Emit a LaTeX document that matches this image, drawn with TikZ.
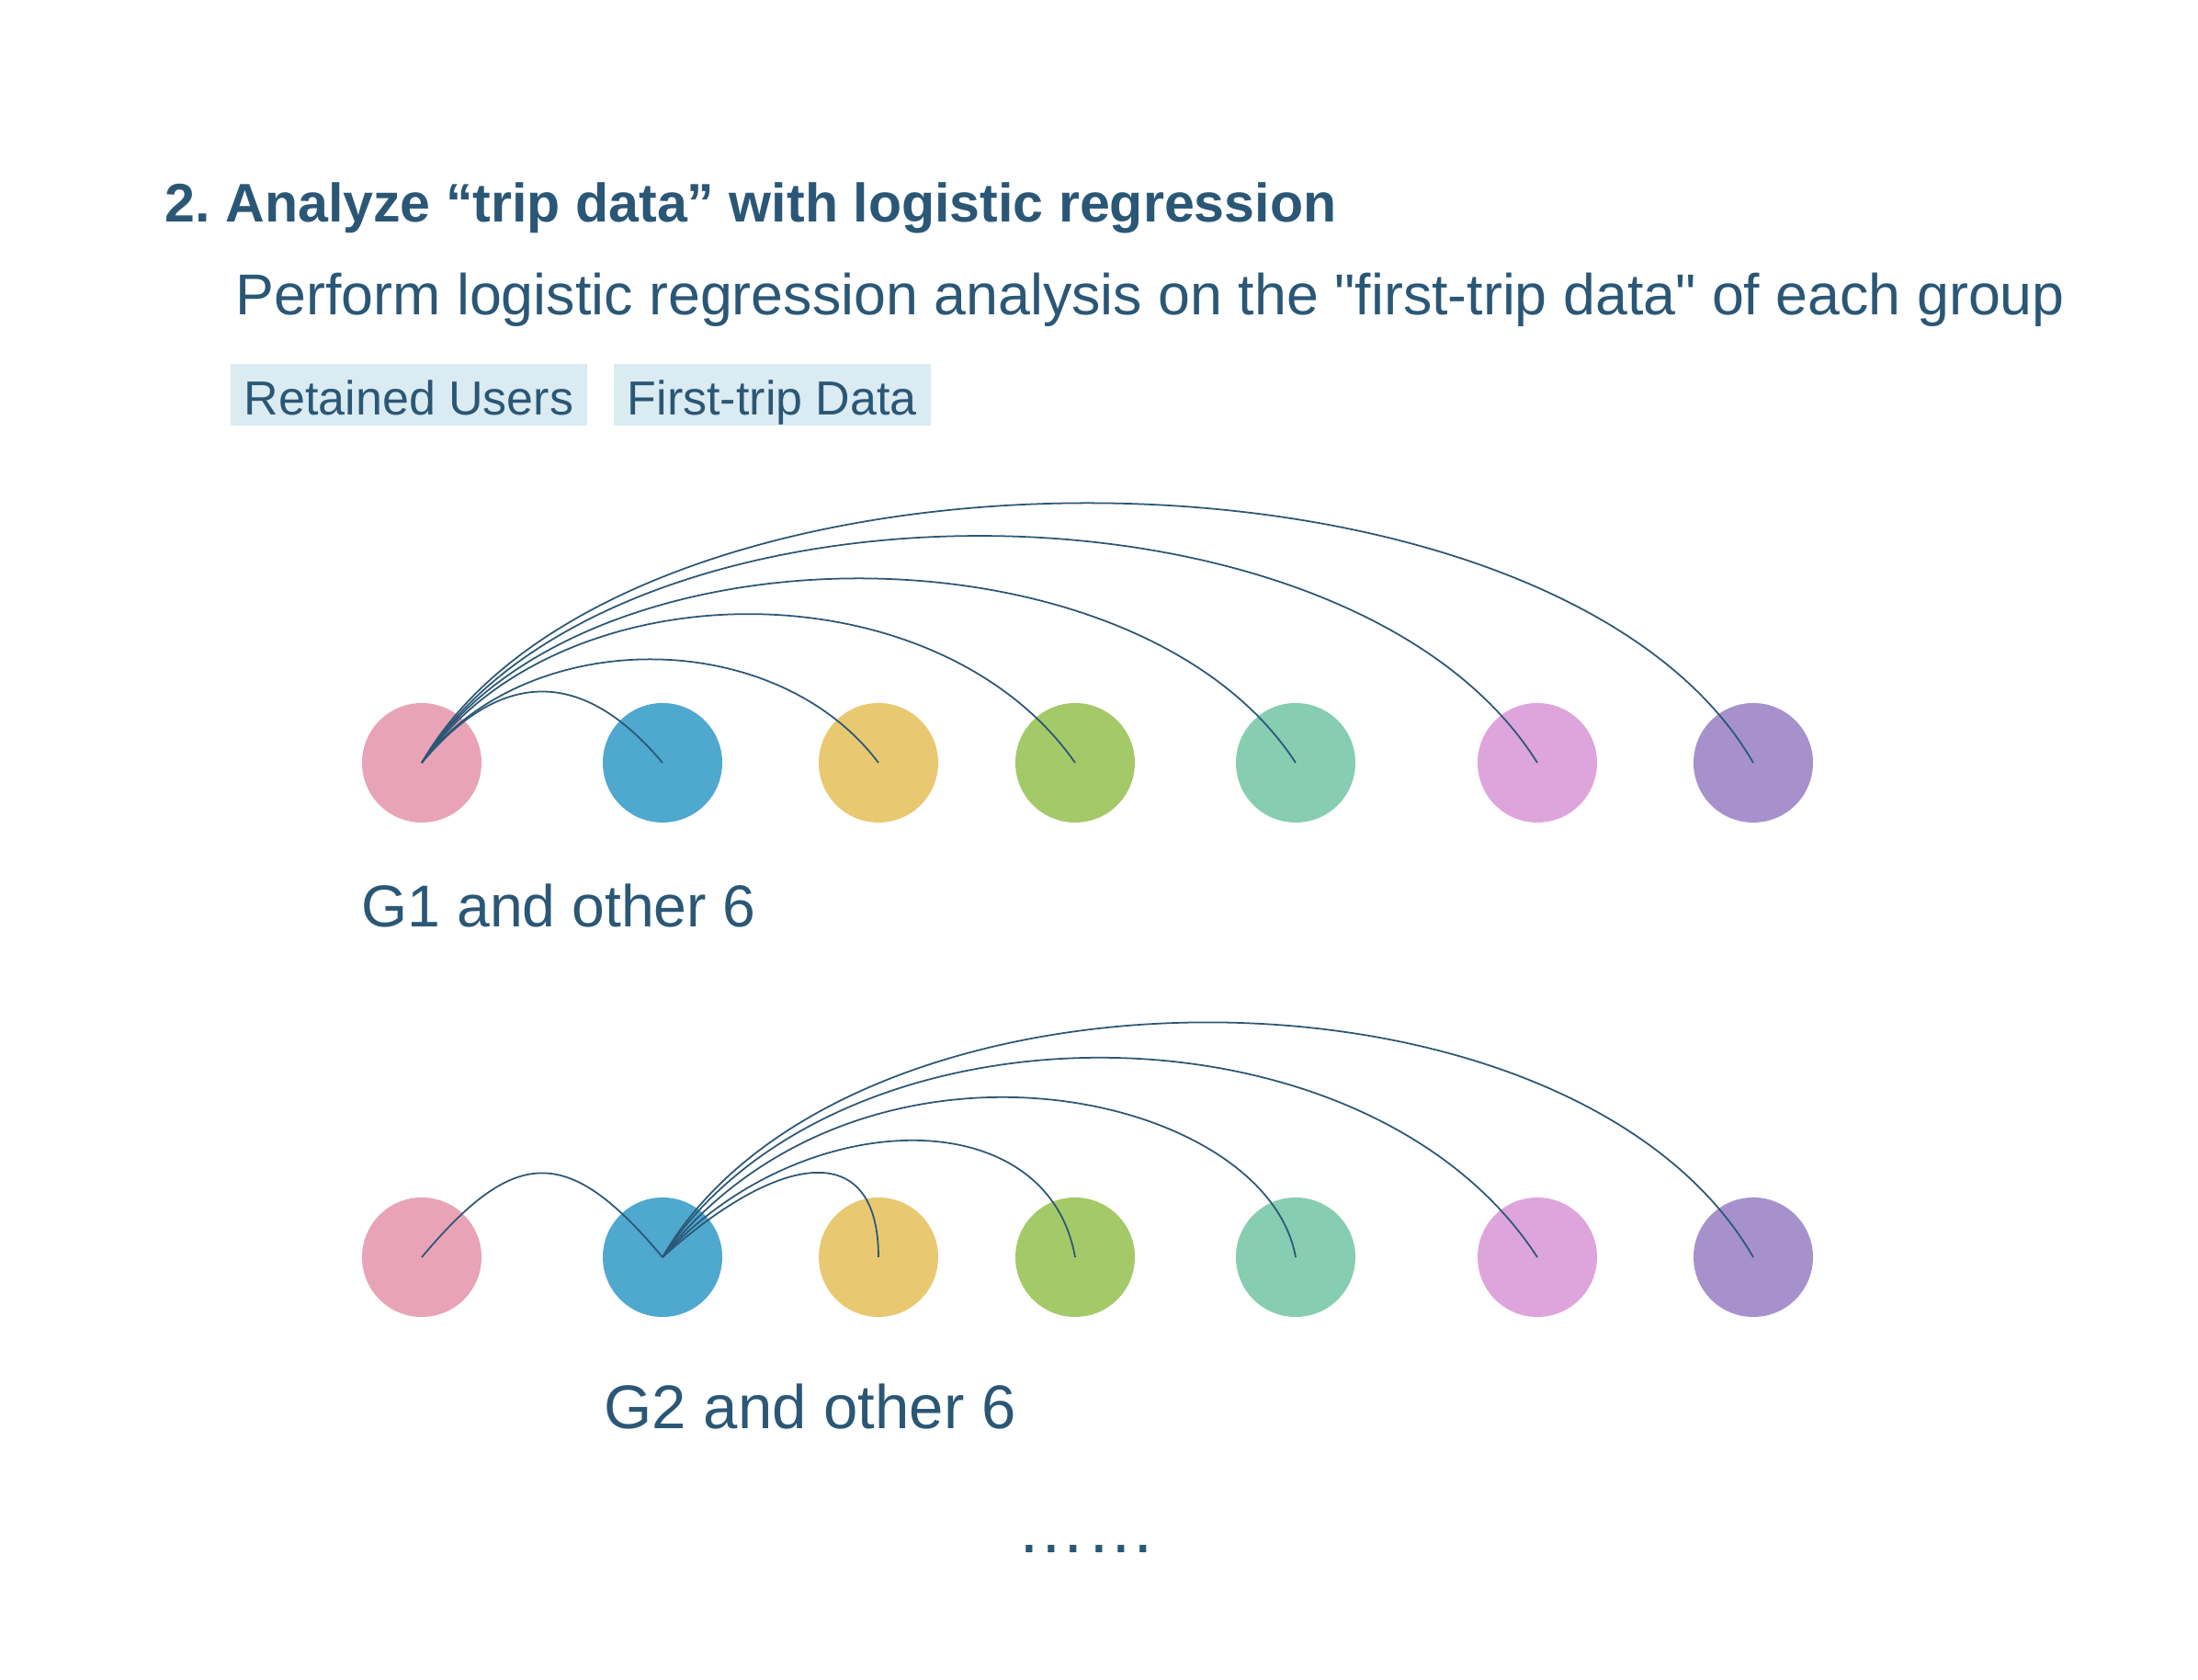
\documentclass[tikz,border=0pt]{standalone}
\usepackage{fontspec}
\setmainfont{Liberation Sans}[Ligatures=TeXOff]
\usepackage{tikz}
\usetikzlibrary{positioning}
\definecolor{ink}{HTML}{2B5776}
\definecolor{tagbg}{HTML}{DAEBF2}
\definecolor{gpink}{HTML}{E9A3B6}
\definecolor{gblue}{HTML}{4FA8CE}
\definecolor{gyellow}{HTML}{E8C972}
\definecolor{ggreen}{HTML}{A4C969}
\definecolor{gteal}{HTML}{87CDB2}
\definecolor{gviolet}{HTML}{DEA5DD}
\definecolor{gpurple}{HTML}{A791CC}
\frenchspacing

\begin{document}
\begin{tikzpicture}[
    grp/.style={circle, minimum size=1.3cm, inner sep=0pt},
    link/.style={draw=ink, line width=0.5pt},
    tagbox/.style={fill=tagbg, text=ink, anchor=base west, inner xsep=4.3pt, inner ysep=2pt,
      text height=13.9pt, text depth=1.1pt, font=\fontsize{14.8}{17}\selectfont},
    lbl/.style={text=ink, anchor=base west, inner sep=0pt}]
  \useasboundingbox (0,0) rectangle (23.92,18.28);

  % Kopf
  \node[lbl, font=\fontsize{16.82}{20}\selectfont\bfseries] (title) at (1.79,15.86)
    {2. Analyze “trip data” with logistic regression};
  \node[lbl, font=\fontsize{17.85}{21}\selectfont] (sub) at (2.56,14.85)
    {Perform logistic regression analysis on the "first-trip data" of each group};
  \node[tagbox] (tag1) at (2.50,13.76) {Retained Users};
  \node[tagbox] (tag2) at (6.67,13.76) {First-trip Data};

  % G1 und die anderen
  \node[grp, fill=gpink]   (a1) at (4.59,9.98) {};
  \node[grp, fill=gblue]   (b1) at (7.21,9.98) {};
  \node[grp, fill=gyellow] (c1) at (9.56,9.98) {};
  \node[grp, fill=ggreen]  (d1) at (11.70,9.98) {};
  \node[grp, fill=gteal]   (e1) at (14.10,9.98) {};
  \node[grp, fill=gviolet] (f1) at (16.73,9.98) {};
  \node[grp, fill=gpurple] (h1) at (19.08,9.98) {};
  \draw[link] (a1.center) to[out=50,in=130,looseness=1.32] (b1.center);
  \draw[link] (a1.center) to[out=53,in=127,looseness=0.97] (c1.center);
  \draw[link] (a1.center) to[out=55,in=125,looseness=0.95] (d1.center);
  \draw[link] (a1.center) to[out=57,in=123,looseness=0.86] (e1.center);
  \draw[link] (a1.center) to[out=58,in=122,looseness=0.82] (f1.center);
  \draw[link] (a1.center) to[out=60,in=120,looseness=0.77] (h1.center);
  \node[lbl, font=\fontsize{18.3}{22}\selectfont] (cap1) at (3.93,8.19) {G1 and other 6};

  % G2 und die anderen
  \node[grp, fill=gpink]   (a2) at (4.59,4.60) {};
  \node[grp, fill=gblue]   (b2) at (7.21,4.60) {};
  \node[grp, fill=gyellow] (c2) at (9.56,4.60) {};
  \node[grp, fill=ggreen]  (d2) at (11.70,4.60) {};
  \node[grp, fill=gteal]   (e2) at (14.10,4.60) {};
  \node[grp, fill=gviolet] (f2) at (16.73,4.60) {};
  \node[grp, fill=gpurple] (h2) at (19.08,4.60) {};
  \draw[link] (a2.center) to[out=50,in=130,looseness=1.56] (b2.center);
  \draw[link] (b2.center) to[out=42,in=90,out distance=1.74cm,in distance=1.29cm] (c2.center);
  \draw[link] (b2.center) to[out=48,in=100,out distance=2.23cm,in distance=1.76cm] (d2.center);
  \draw[link] (b2.center) to[out=52,in=100,out distance=3.53cm,in distance=1.84cm] (e2.center);
  \draw[link] (b2.center) to[out=57,in=123,looseness=0.93] (f2.center);
  \draw[link] (b2.center) to[out=60,in=120,looseness=0.85] (h2.center);
  \node[lbl, font=\fontsize{19.1}{23}\selectfont] (cap2) at (6.57,2.73) {G2 and other 6};

  \node[text=ink, anchor=base, inner sep=0pt, font=\fontsize{21.5}{25}\selectfont] (more) at (11.82,1.38) {……};
\end{tikzpicture}
\end{document}
